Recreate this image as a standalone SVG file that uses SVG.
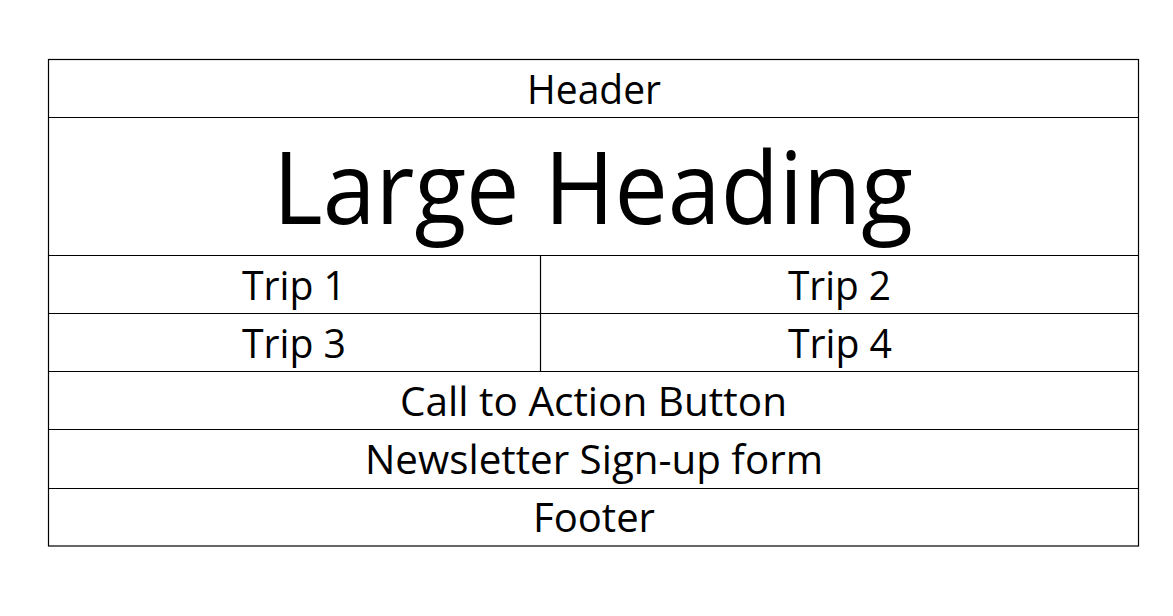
<svg xmlns="http://www.w3.org/2000/svg" width="1173" height="616" viewBox="0 0 1173 616">
<style>
.ln{stroke:#000;stroke-width:1.2;fill:none}
.t{font-family:"Open Sans","Noto Sans",sans-serif;font-size:40px;fill:#000;text-anchor:middle}
.big{font-size:100px}
</style>
<rect width="1173" height="616" fill="#fff"/>
<g id="connectors">
<rect class="ln" x="48.5" y="59.5" width="1090" height="486.5"/>
<line class="ln" x1="48.5" y1="117.5" x2="1138.5" y2="117.5"/>
<line class="ln" x1="48.5" y1="255.5" x2="1138.5" y2="255.5"/>
<line class="ln" x1="48.5" y1="313.5" x2="1138.5" y2="313.5"/>
<line class="ln" x1="48.5" y1="371.5" x2="1138.5" y2="371.5"/>
<line class="ln" x1="48.5" y1="429.5" x2="1138.5" y2="429.5"/>
<line class="ln" x1="48.5" y1="488.5" x2="1138.5" y2="488.5"/>
<line class="ln" x1="540.5" y1="255.5" x2="540.5" y2="371.5"/>
</g>
<g id="header"><text class="t" x="594" y="104" textLength="134" lengthAdjust="spacingAndGlyphs">Header</text></g>
<g id="heading"><text class="t big" x="593" y="224" textLength="640" lengthAdjust="spacingAndGlyphs">Large Heading</text></g>
<g id="trip1"><text class="t" x="294" y="300" textLength="104" lengthAdjust="spacingAndGlyphs">Trip 1</text></g>
<g id="trip2"><text class="t" x="839.5" y="300" textLength="103" lengthAdjust="spacingAndGlyphs">Trip 2</text></g>
<g id="trip3"><text class="t" x="294" y="358" textLength="104" lengthAdjust="spacingAndGlyphs">Trip 3</text></g>
<g id="trip4"><text class="t" x="840" y="358" textLength="104" lengthAdjust="spacingAndGlyphs">Trip 4</text></g>
<g id="cta"><text class="t" x="593.5" y="416" textLength="387" lengthAdjust="spacingAndGlyphs">Call to Action Button</text></g>
<g id="newsletter"><text class="t" x="594" y="474" textLength="458" lengthAdjust="spacingAndGlyphs">Newsletter Sign-up form</text></g>
<g id="footer"><text class="t" x="594" y="532" textLength="122" lengthAdjust="spacingAndGlyphs">Footer</text></g>
</svg>
